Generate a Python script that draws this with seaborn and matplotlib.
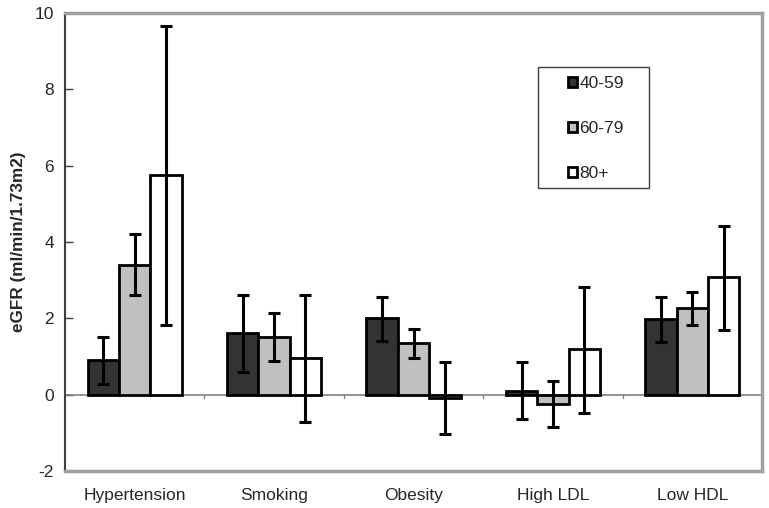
import numpy as np
import pandas as pd
import seaborn as sns
import matplotlib.pyplot as plt
from matplotlib.patches import Rectangle

# risk factors and age groups
categories = ["Hypertension", "Smoking", "Obesity", "High LDL", "Low HDL"]
age_groups = ["40-59", "60-79", "80+"]

# mean eGFR difference per age group
mean_40 = [0.90, 1.62, 2.00, 0.10, 1.97]
mean_60 = [3.40, 1.50, 1.35, -0.25, 2.27]
mean_80 = [5.75, 0.95, -0.10, 1.20, 3.07]

# confidence interval limits
low_40 = [0.29, 0.60, 1.40, -0.63, 1.38]
high_40 = [1.52, 2.62, 2.57, 0.85, 2.57]
low_60 = [2.60, 0.87, 0.97, -0.85, 1.82]
high_60 = [4.20, 2.13, 1.72, 0.35, 2.68]
low_80 = [1.83, -0.72, -1.02, -0.47, 1.70]
high_80 = [9.65, 2.62, 0.85, 2.83, 4.42]

means = [mean_40, mean_60, mean_80]
lows = [low_40, low_60, low_80]
highs = [high_40, high_60, high_80]

rows = []
for g, m in zip(age_groups, means):
    for c, v in zip(categories, m):
        rows.append({"factor": c, "age": g, "egfr": v})
df = pd.DataFrame(rows)

sns.set_style("white")
plt.rcParams['font.family'] = ['Liberation Sans', 'DejaVu Sans']
plt.rcParams['axes.unicode_minus'] = False

W, H = 769, 508
fig = plt.figure(figsize=(W / 100, H / 100), dpi=100)
ax = fig.add_axes([65 / W, 37 / H, 697 / W, 458 / H])

colors = ["#333333", "#c0c0c0", "#ffffff"]
sns.barplot(data=df, x="factor", y="egfr", hue="age", order=categories,
            hue_order=age_groups, palette=colors, width=0.675,
            edgecolor="black", linewidth=2, errorbar=None, ax=ax, zorder=3)

# asymmetric error bars on each bar
for cont, m, lo, hi in zip(ax.containers, means, lows, highs):
    xs = [p.get_x() + p.get_width() / 2 for p in cont.patches]
    m = np.array(m)
    yerr = [m - np.array(lo), np.array(hi) - m]
    ax.errorbar(xs, m, yerr=yerr, fmt="none", ecolor="black",
                elinewidth=2.2, capsize=4.5, capthick=2.2, zorder=4)

ax.set_ylim(-2, 10)
ax.set_xlim(-0.5, len(categories) - 0.5)
ax.set_yticks(range(-2, 11, 2))
ax.axhline(0, color="#808080", linewidth=1.2, zorder=2)

# small category separators on the zero line
for xb in np.arange(0.5, len(categories), 1):
    ax.plot([xb, xb], [-0.08, 0.0], color="#808080", linewidth=1, zorder=2)

for side in ["top", "right", "bottom"]:
    ax.spines[side].set_color("#a0a0a0")
    ax.spines[side].set_linewidth(2.5)
ax.spines["left"].set_color("#404040")
ax.spines["left"].set_linewidth(1.5)

ax.tick_params(axis="y", which="major", direction="in", length=6, width=1,
               color="#404040", labelsize=12.5, left=True, pad=8)
ax.tick_params(axis="x", length=0, labelsize=12.5, pad=12)
ax.set_xlabel("")
ax.set_ylabel("eGFR (ml/min/1.73m2)", fontsize=12.3, fontweight="bold", labelpad=6)

# legend box
ax.add_patch(Rectangle((538 / W, 1 - 188 / H), 111 / W, 121 / H,
                       transform=fig.transFigure, facecolor="white",
                       edgecolor="#404040", linewidth=1, zorder=5,
                       clip_on=False))
leg = ax.legend(loc="upper left", bbox_to_anchor=(568 / W, 1 - 76 / H),
                bbox_transform=fig.transFigure, frameon=False,
                fontsize=12.5, handlelength=0.5, handleheight=0.5,
                handletextpad=0.15, labelspacing=1.72, borderpad=0,
                borderaxespad=0)
leg.set_zorder(6)
for h in leg.legend_handles:
    h.set_linewidth(2)
    h.set_edgecolor("black")

fig.savefig("out.png", dpi=100)
